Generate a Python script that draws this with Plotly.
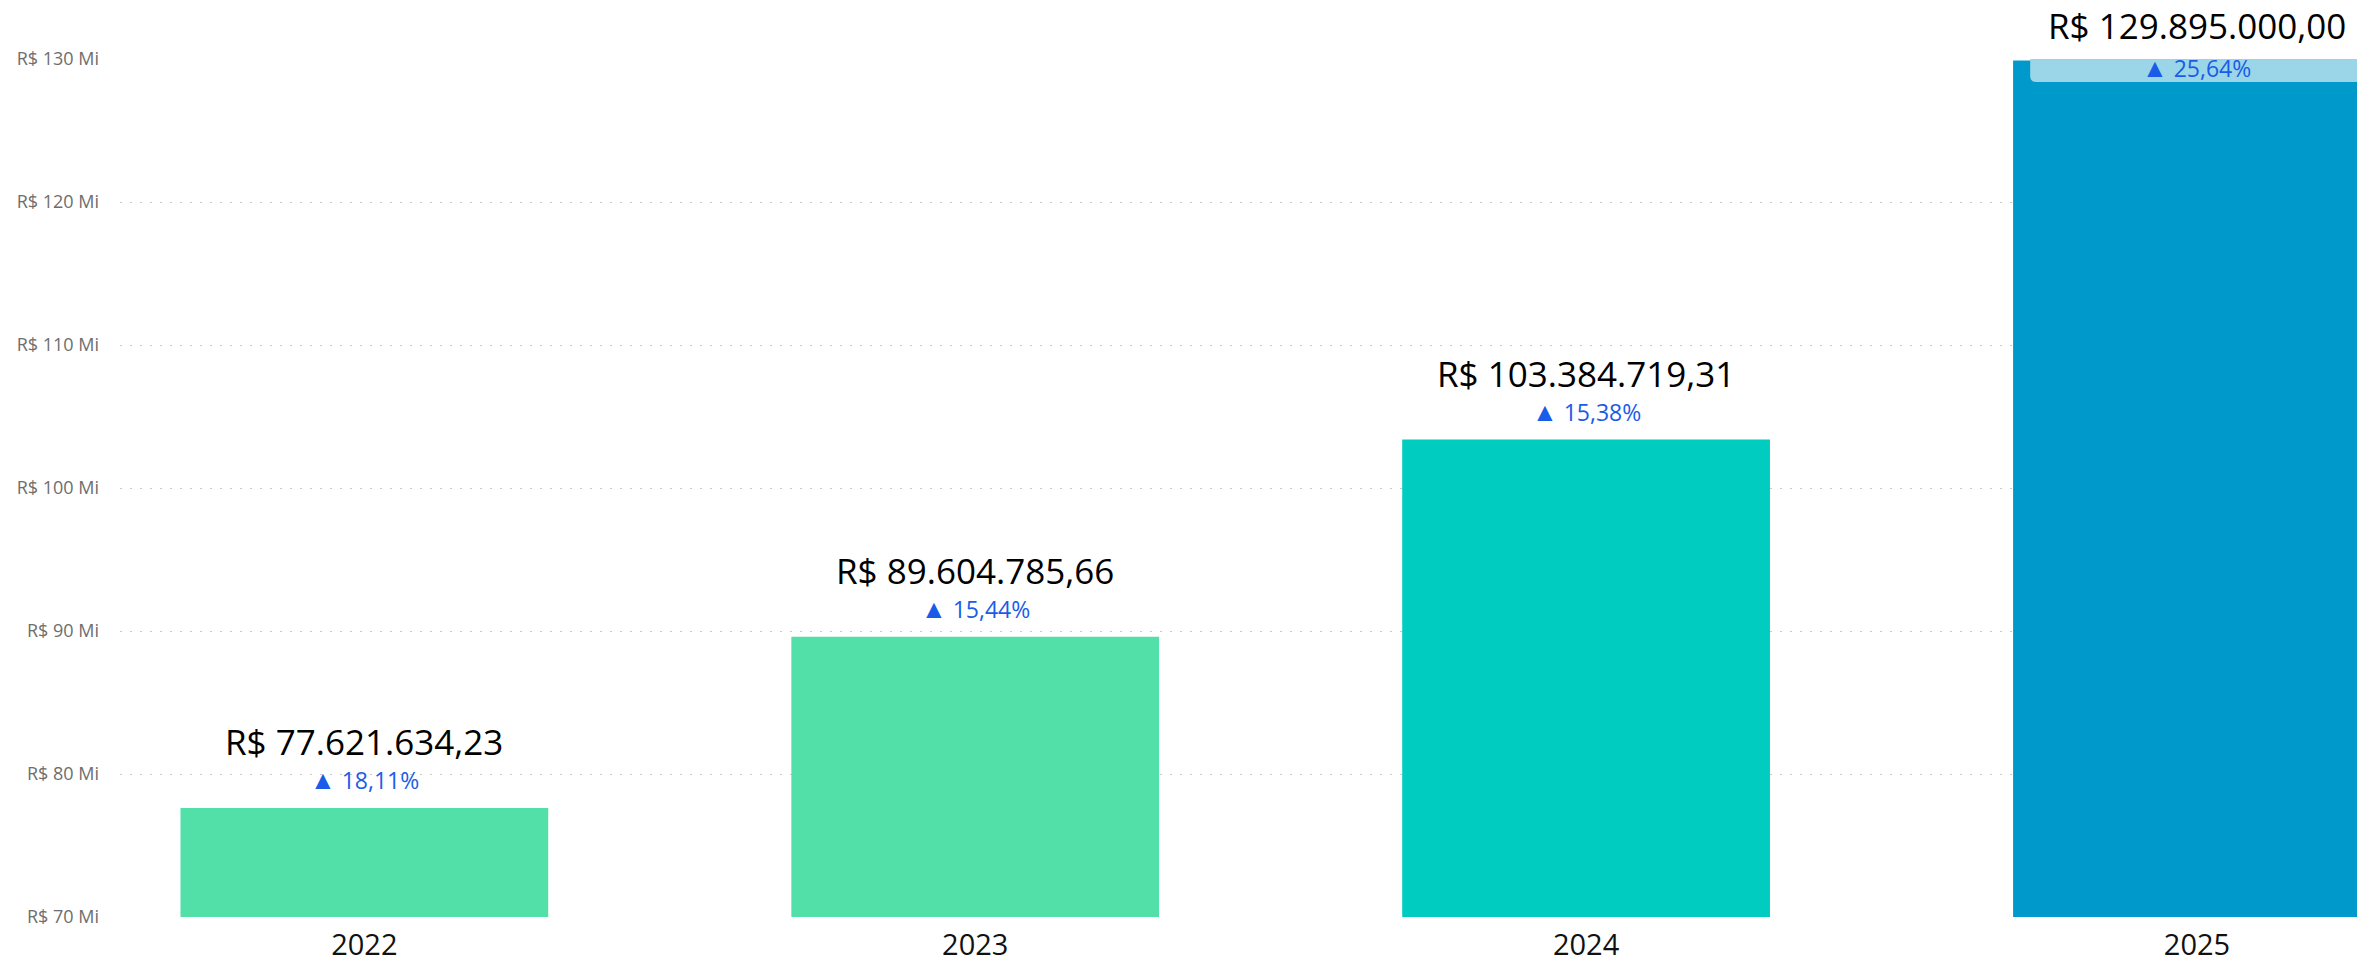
import plotly.graph_objects as go

# ---- data ----
years = ["2022", "2023", "2024", "2025"]
revenue = [77621634.23, 89604785.66, 103384719.31, 129895000.00]
growth_pct = [18.11, 15.44, 15.38, 25.64]
y_ticks_mi = [70, 80, 90, 100, 110, 120, 130]

# ---- styles ----
bar_colors = ["#52E0A8", "#52E0A8", "#00CCC0", "#0099CC"]
label_bg = "#9BD5E8"
pct_color = "#1A5CE8"
FONT = "Open Sans"
Y_MIN, Y_MAX = 70, 130


def fmt_brl(v):
    s = f"{v:,.2f}"
    s = s.replace(",", "#").replace(".", ",").replace("#", ".")
    return "R$ " + s


def fmt_pct(p):
    return ("<span style='font-size:26px'>▲</span> "
            + f"{p:.2f}".replace(".", ",") + "%")


vals_mi = [v / 1e6 for v in revenue]

fig = go.Figure(
    go.Bar(
        x=years,
        y=vals_mi,
        marker=dict(color=bar_colors, line=dict(width=0)),
        hoverinfo="skip",
    )
)

annotations = []
shapes = []
half_w = (1 - 0.398) / 2
for i, (yr, v, p) in enumerate(zip(years, vals_mi, growth_pct)):
    inside = v > Y_MAX - 3
    if inside:
        v_shift, p_shift = 36, -6
        rx, ry = 6 / 611, 6 / 14.31
        x0 = i + 0.028 - half_w
        x1 = i + half_w + 0.1
        y0 = Y_MAX - 1.6
        y1 = Y_MAX
        shapes.append(dict(
            type="path", xref="x", yref="y",
            path=(f"M {x0},{y1} L {x0},{y0 + ry} Q {x0},{y0} {x0 + rx},{y0} "
                  f"L {x1},{y0} L {x1},{y1} Z"),
            fillcolor=label_bg, line=dict(width=0), layer="above",
        ))
    else:
        v_shift, p_shift = 67, 29
    annotations.append(dict(
        x=i, y=v, xref="x", yref="y", text=fmt_brl(revenue[i]),
        showarrow=False, yanchor="middle", xanchor="center", yshift=v_shift,
        height=38, valign="middle",
        font=dict(family=FONT, size=35, color="#000000"),
    ))
    annotations.append(dict(
        x=i, y=v, xref="x", yref="y", text=fmt_pct(p),
        showarrow=False, yanchor="middle", xanchor="center", yshift=p_shift,
        height=26, valign="middle",
        font=dict(family=FONT, size=23, color=pct_color),
    ))

fig.update_layout(
    width=2357, height=960,
    margin=dict(l=120, r=0, t=59, b=43),
    paper_bgcolor="white", plot_bgcolor="white",
    bargap=0.398,
    showlegend=False,
    annotations=annotations,
    shapes=shapes,
    xaxis=dict(
        type="category",
        range=[-0.4, 3.262],
        showgrid=False, showline=False, zeroline=False, automargin=False,
        ticks="", tickfont=dict(family=FONT, size=29, color="#111111"),
        ticklabelstandoff=8,
    ),
    yaxis=dict(
        range=[Y_MIN, Y_MAX],
        tickvals=y_ticks_mi,
        ticktext=[f"R$ {t} Mi" for t in y_ticks_mi],
        showgrid=True, gridcolor="#C8C8C8", griddash="2px,8px", gridwidth=1,
        zeroline=False, showline=False, ticks="", automargin=False,
        tickfont=dict(family=FONT, size=18, color="#6E6E6E"),
        ticklabelstandoff=20,
    ),
)

fig.write_html(
    "out.html",
    config={"displayModeBar": False},
    post_script="document.body.style.margin='0';document.body.style.overflow='hidden';",
)
